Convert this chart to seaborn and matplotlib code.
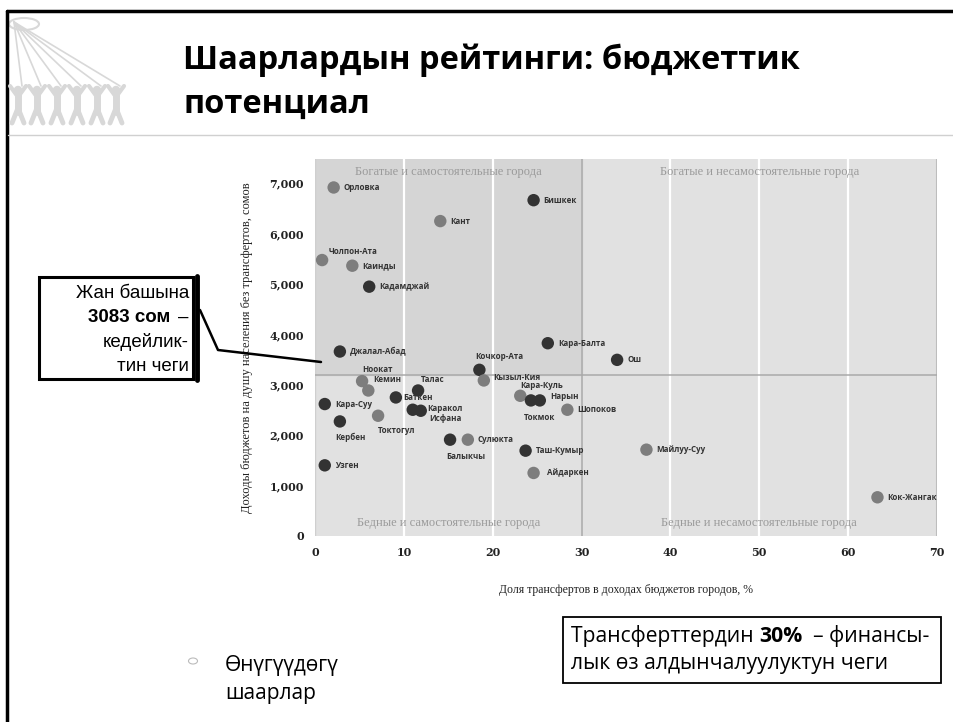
import numpy as np
import pandas as pd
import matplotlib.pyplot as plt
from matplotlib.lines import Line2D
from matplotlib.patches import Rectangle, Ellipse
import seaborn as sns

sns.set_theme(style="white")
plt.rcParams['font.family'] = ['Open Sans', 'DejaVu Sans']

# %% data
cities = ["Орловка", "Бишкек", "Кант", "Чолпон-Ата", "Каинды", "Кадамджай",
          "Кара-Балта", "Джалал-Абад", "Ош", "Кочкор-Ата", "Ноокат", "Кызыл-Кия",
          "Кемин", "Талас", "Кара-Куль", "Баткен", "Токмок", "Нарын", "Кара-Суу",
          "Каракол", "Исфана", "Шопоков", "Токтогул", "Кербен", "Балыкчы",
          "Сулюкта", "Майлуу-Суу", "Таш-Кумыр", "Узген", "Айдаркен", "Кок-Жангак"]
transfer_share = [2.1, 24.6, 14.1, 0.8, 4.2, 6.1,
                  26.2, 2.8, 34.0, 18.5, 5.3, 19.0,
                  6.0, 11.6, 23.1, 9.1, 24.3, 25.3, 1.1,
                  11.0, 11.9, 28.4, 7.1, 2.8, 15.2,
                  17.2, 37.3, 23.7, 1.1, 24.6, 63.3]
income_per_capita = [6915, 6663, 6248, 5475, 5363, 4947,
                     3825, 3660, 3495, 3297, 3073, 3086,
                     2887, 2887, 2782, 2749, 2690, 2690, 2618,
                     2505, 2485, 2505, 2386, 2273, 1911,
                     1911, 1713, 1693, 1402, 1251, 768]
group = ["B", "A", "B", "B", "B", "A",
         "A", "A", "A", "A", "B", "B",
         "B", "A", "B", "A", "A", "A", "A",
         "A", "A", "B", "B", "A", "A",
         "B", "B", "A", "A", "B", "B"]

x_ticks = [0, 10, 20, 30, 40, 50, 60, 70]
y_ticks = [0, 1000, 2000, 3000, 4000, 5000, 6000, 7000]
share_threshold = 30
income_threshold = 3200

df = pd.DataFrame({"city": cities, "share": transfer_share,
                   "income": income_per_capita, "group": group})

# label offsets in pixels (dx, dy); default is to the right of the dot
label_offsets = {
    "Чолпон-Ата": (7, 9), "Кочкор-Ата": (-4, 13), "Ноокат": (0, 12),
    "Кемин": (5, 11), "Кызыл-Кия": (9, 3), "Талас": (3, 11),
    "Баткен": (7, 0), "Каракол": (15, 1), "Исфана": (9, -8),
    "Токтогул": (0, -15), "Кербен": (-5, -16), "Балыкчы": (-4, -17),
    "Кара-Куль": (0, 10), "Токмок": (-7, -17), "Нарын": (10, 4),
    "Айдаркен": (13, 0),
}

W, H = 954, 722


def fx(px):
    return px / W


def fy(py):
    return 1 - py / H


# %% figure
fig = plt.figure(figsize=(9.54, 7.22), dpi=100)
fig.patch.set_facecolor("white")
renderer = fig.canvas.get_renderer()


def text_run(x0, y0, parts, **kw):
    # write pieces one after the other on one line (mixed bold / normal)
    x = x0
    for s, weight in parts:
        t = fig.text(fx(x), fy(y0), s, fontweight=weight, ha="left", va="center", **kw)
        x += t.get_window_extent(renderer).width
    return x


ax = fig.add_axes([fx(315), fy(536), (937 - 315) / W, (536 - 159) / H])
ax.set_xlim(0, 70)
ax.set_ylim(0, 7480)
ax.set_facecolor("#e1e1e1")
ax.fill_between([0, share_threshold], income_threshold, 7480, color="#d5d5d5", zorder=0)
for xv in [10, 20, 40, 50, 60]:
    ax.axvline(xv, color="white", lw=1.6, zorder=1)
ax.axvline(share_threshold, color="#aeaeae", lw=1.2, zorder=1)
ax.axvline(70, color="#bdbdbd", lw=1.5, zorder=1)
ax.axvline(0, color="#cfcfcf", lw=1.0, zorder=1)
ax.axhline(income_threshold, color="#a9a9a9", lw=1.1, zorder=1)

sns.scatterplot(data=df, x="share", y="income", hue="group",
                palette={"A": "#333333", "B": "#7d7d7d"},
                s=80, linewidth=0, legend=False, ax=ax, zorder=3)

for _, r in df.iterrows():
    dx, dy = label_offsets.get(r["city"], (10, 0))
    ax.annotate(r["city"], (r["share"], r["income"]), xytext=(dx, dy),
                textcoords="offset pixels", ha="left", va="center",
                fontsize=5.8, fontweight="bold", color="#333333", zorder=4)

quad_kw = dict(ha="center", va="center", fontsize=9, color="#9a9a9a",
               family="Liberation Serif")
ax.text(15, 7230, "Богатые и самостоятельные города", **quad_kw)
ax.text(50, 7230, "Богатые и несамостоятельные города", **quad_kw)
ax.text(15, 260, "Бедные и самостоятельные города", **quad_kw)
ax.text(50, 260, "Бедные и несамостоятельные города", **quad_kw)

for s in ax.spines.values():
    s.set_visible(False)
ax.set_xticks(x_ticks)
ax.set_yticks(y_ticks)
ax.set_xticklabels([str(v) for v in x_ticks])
ax.set_yticklabels([f"{v:,}" for v in y_ticks])
ax.tick_params(length=0, pad=8)
for lab in ax.get_xticklabels() + ax.get_yticklabels():
    lab.set_family("DejaVu Serif")
    lab.set_fontweight("bold")
    lab.set_fontsize(8)
    lab.set_color("#222222")
ax.set_xlabel("Доля трансфертов в доходах бюджетов городов, %",
              family="Liberation Serif", fontsize=8.5, color="#222222", labelpad=19)
ax.set_ylabel("Доходы бюджетов на душу населения без трансфертов, сомов",
              family="Liberation Serif", fontsize=9, color="#222222", labelpad=12)

# %% slide decorations
fig.add_artist(Line2D([fx(7), fx(7)], [fy(11), 0], color="black", lw=2.5))
fig.add_artist(Line2D([fx(7), 1], [fy(11), fy(11)], color="black", lw=2.5))
fig.add_artist(Line2D([fx(8), 1], [fy(135), fy(135)], color="#d0d0d0", lw=1))

# logo: faint yurt fan with people
logo_c = "#d8d8d8"
fig.add_artist(Ellipse((fx(24), fy(24)), 30 / W, 12 / H, fill=False, color=logo_c, lw=1.5))
for cx in [18, 37, 57, 77, 97, 116]:
    fig.add_artist(Line2D([fx(14), fx(cx + 4)], [fy(22), fy(86)], color=logo_c, lw=1.2))
    fig.add_artist(Line2D([fx(cx), fx(cx)], [fy(94), fy(112)], color=logo_c, lw=5))
    fig.add_artist(Line2D([fx(cx - 8), fx(cx), fx(cx + 8)], [fy(86), fy(97), fy(86)], color=logo_c, lw=3))
    fig.add_artist(Line2D([fx(cx - 6), fx(cx), fx(cx + 6)], [fy(123), fy(108), fy(123)], color=logo_c, lw=3.5))
    fig.add_artist(Ellipse((fx(cx), fy(90)), 7 / W, 7 / H, color=logo_c))

fig.text(fx(183), fy(60), "Шаарлардын рейтинги: бюджеттик", fontsize=23.5,
         fontweight="bold", color="black", va="center", ha="left")
fig.text(fx(183), fy(104), "потенциал", fontsize=23.5,
         fontweight="bold", color="black", va="center", ha="left")

# callout box on the left
fig.add_artist(Rectangle((fx(39), fy(379)), (193 - 39) / W, (379 - 277) / H,
                         fill=False, ec="black", lw=2.2))
fig.add_artist(Line2D([fx(197), fx(197)], [fy(276), fy(380)], color="black", lw=3.5))
fig.add_artist(Line2D([fx(200), fx(218), fx(321)], [fy(310), fy(350), fy(362)],
                      color="black", lw=1.8))
box_kw = dict(family=["Liberation Sans", "DejaVu Sans"], fontsize=13.5,
              color="black", va="center")
fig.text(fx(189), fy(293), "Жан башына", ha="right", **box_kw)
fig.text(fx(189), fy(317), "–", ha="right", **box_kw)
fig.text(fx(170), fy(317), "3083 сом", fontweight="bold", ha="right", **box_kw)
fig.text(fx(189), fy(342), "кедейлик-", ha="right", **box_kw)
fig.text(fx(189), fy(366), "тин чеги", ha="right", **box_kw)

# bottom note box
fig.add_artist(Rectangle((fx(563), fy(683)), (941 - 563) / W, (683 - 617) / H,
                         fill=False, ec="black", lw=1.3))
note_kw = dict(fontsize=15.2, color="black")
text_run(571, 636, [("Трансферттердин ", "normal"), ("30%", "bold"),
                    ("  – финансы-", "normal")], **note_kw)
text_run(571, 664, [("лык өз алдынчалуулуктун чеги", "normal")], **note_kw)

# bullet
fig.add_artist(Ellipse((fx(193), fy(661)), 9 / W, 6 / H, fill=False, ec="#bbbbbb", lw=0.8))
fig.text(fx(225), fy(665), "Өнүгүүдөгү", fontsize=15, color="black", va="center")
fig.text(fx(225), fy(694), "шаарлар", fontsize=15, color="black", va="center")

fig.savefig("out.png", dpi=100)
